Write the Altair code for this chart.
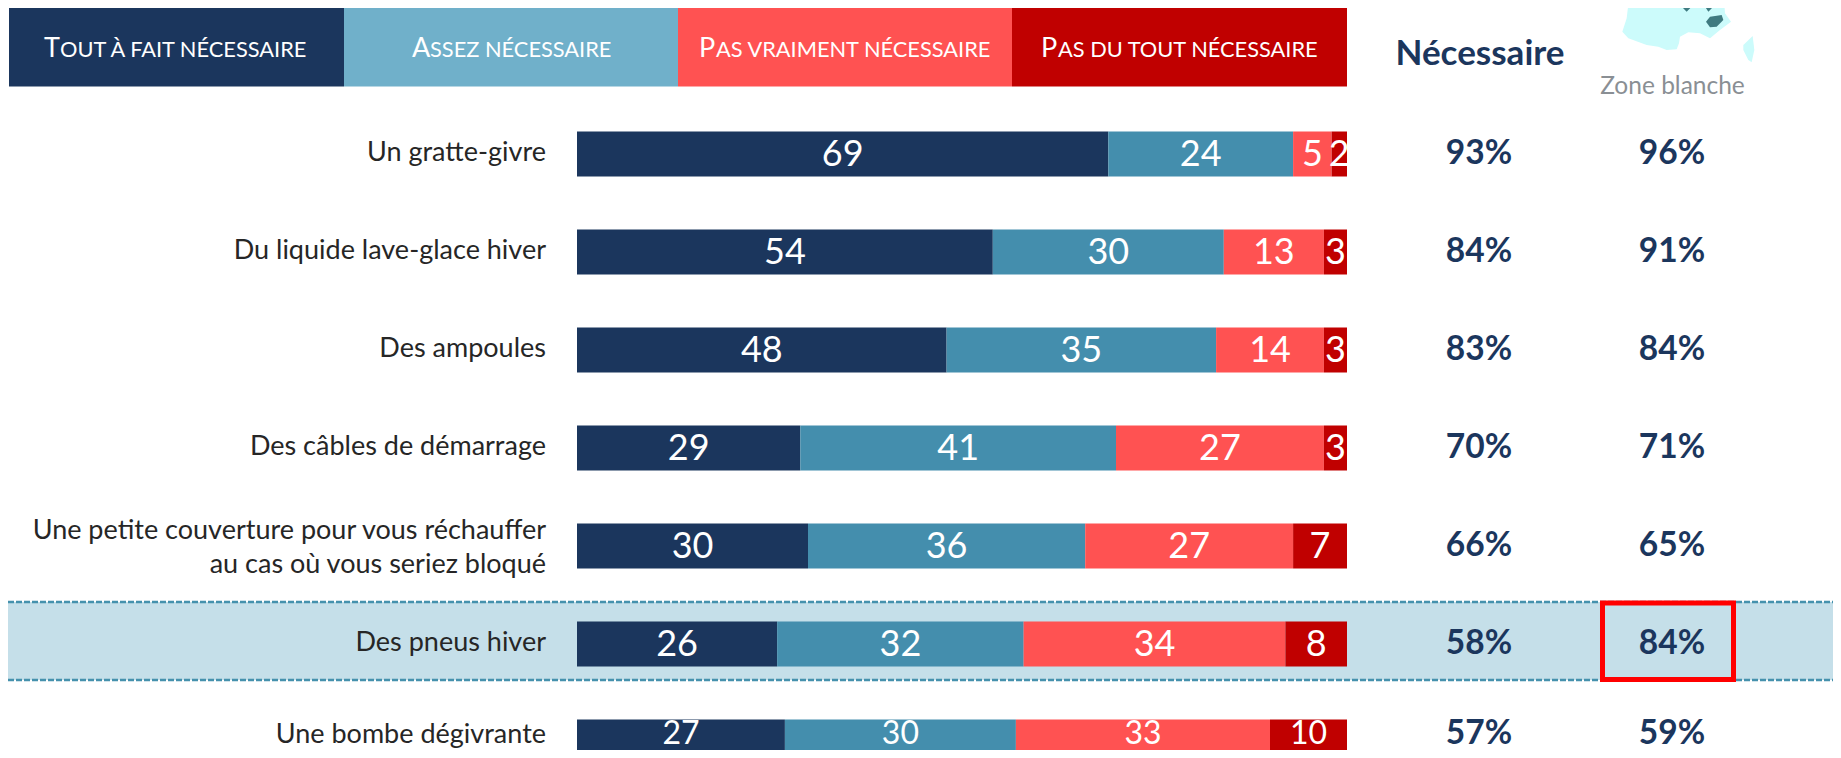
import altair as alt
import pandas as pd

categories = ["Un gratte-givre", "Du liquide lave-glace hiver", "Des ampoules", "Des câbles de démarrage",
              "Une petite couverture pour vous réchauffer\nau cas où vous seriez bloqué", "Des pneus hiver", "Une bombe dégivrante"]
series = ["Tout à fait nécessaire", "Assez nécessaire", "Pas vraiment nécessaire", "Pas du tout nécessaire"]
tout_a_fait = [69, 54, 48, 29, 30, 26, 27]
assez = [24, 30, 35, 41, 36, 32, 30]
pas_vraiment = [5, 13, 14, 27, 27, 34, 33]
pas_du_tout = [2, 3, 3, 3, 7, 8, 10]
necessaire = ["93%", "84%", "83%", "70%", "66%", "58%", "57%"]
zone_blanche = ["96%", "91%", "84%", "71%", "65%", "84%", "59%"]

bar_colors = ["#1B365D", "#448EAD", "#FF5252", "#C00000"]
head_colors = ["#1B365D", "#70B0CA", "#FF5252", "#C00000"]
NAVY = "#1B365D"
LABEL_FONT = "Lato"

rows = []
for i, c in enumerate(categories):
    start = 0
    for s, vals in zip(series, [tout_a_fait, assez, pas_vraiment, pas_du_tout]):
        v = vals[i]
        rows.append({"cat": c, "serie": s, "v": v, "start": start, "end": start + v, "mid": start + v / 2})
        start += v
bars_df = pd.DataFrame(rows)
cols_df = pd.DataFrame({"cat": categories, "nec": necessaire, "zb": zone_blanche})
last = categories[-1]
two_line = categories[4]

W, H = 1825, 742
xs = alt.Scale(domain=[0, 100], range=[569, 1339], nice=False, zero=False)
ys = alt.Scale(domain=categories, range=[97, 783], paddingInner=0.5408, paddingOuter=0.2704, round=False)
X = lambda f: alt.X(f, type="quantitative", scale=xs, axis=None)
Y = alt.Y("cat:N", scale=ys, axis=None, sort=None)
color = alt.Color("serie:N", scale=alt.Scale(domain=series, range=bar_colors), legend=None)

one = pd.DataFrame({"k": [0]})
layers = []

def rect(x0, x1, y0, y1, **kw):
    return alt.Chart(one).mark_rect(**kw).encode(x=alt.value(x0 - 8), x2=alt.value(x1 - 8), y=alt.value(y0 - 8), y2=alt.value(y1 - 8))

def label(txt, x, y, size, col="white", font=LABEL_FONT, weight="normal", align="center"):
    return alt.Chart(pd.DataFrame({"t": [txt]})).mark_text(
        font=font, fontSize=size, color=col, fontWeight=weight, align=align, baseline="alphabetic"
    ).encode(x=alt.value(x - 8), y=alt.value(y - 8), text="t:N")

# highlighted row
layers.append(rect(0, 1841, 602, 680, color="#C5DFE9"))
for yy in (602, 680):
    layers.append(alt.Chart(one).mark_rule(color="#4591AD", strokeWidth=2.5, strokeDash=[6, 2]).encode(
        x=alt.value(0), x2=alt.value(W), y=alt.value(yy - 8)))

# header
edges = [9, 344, 678, 1012, 1347]
for i, c in enumerate(head_colors):
    layers.append(rect(edges[i], edges[i + 1], 8, 86.5, color=c))
head_frags = [("T", "OUT À FAIT NÉCESSAIRE", 44, 16), ("A", "SSEZ NÉCESSAIRE", 412, 18), ("P", "AS VRAIMENT NÉCESSAIRE", 699, 17), ("P", "AS DU TOUT NÉCESSAIRE", 1041, 17)]
for big, small, x0, adv in head_frags:
    layers.append(label(big, x0, 57, 27, align="left"))
    layers.append(label(small, x0 + adv, 57, 21.8, align="left"))

# map silhouette
def path(pts, cx=350, cy=90, half=250):
    return "M" + " L".join(f"{(a - cx) / half:.3f},{(b - cy) / half:.3f}" for a, b in pts) + " Z"
map_light = [(210, -30), (200, 55), (187, 95), (205, 115), (260, 135), (295, 140), (320, 150), (350, 148), (357, 130), (360, 110), (385, 97), (420, 100), (450, 115), (480, 90), (513, 65), (495, 40), (490, -30)]
corsica = [(578, 108), (583, 150), (575, 187), (565, 180), (550, 150), (550, 135)]
map_dark = [(335, -30), (335, 0), (365, 20), (380, 35), (400, 15), (430, 12), (445, 35), (465, 15), (490, 0), (490, -30)]
map_dark2 = [(438, 65), (450, 50), (485, 45), (490, 60), (470, 80), (450, 82)]
size = (2 * 250 / 3) ** 2
mx, my = 1560 + 350 / 3 - 8, 90 / 3 - 8
for pts, col in [(map_light, "#CCFBFB"), (corsica, "#CCFBFB"), (map_dark, "#3F7A80"), (map_dark2, "#3F7A80")]:
    layers.append(alt.Chart(one).mark_point(shape=path(pts), filled=True, color=col, opacity=1, size=size).encode(
        x=alt.value(mx), y=alt.value(my)))

layers.append(label("Nécessaire", 1480, 65, 35, col=NAVY, weight="bold"))
layers.append(label("Zone blanche", 1672.5, 94, 24.5, col="#8A8F94"))

# stacked bars
layers.append(alt.Chart(bars_df).mark_rect().encode(x=X("start"), x2="end:Q", y=Y, color=color))

def pick(df, names, keep=True):
    return df[df["cat"].isin(names) == keep]

# bar values (the bottom row is lifted and reduced a little so that it stays on the page)
for df, dy, fs in ((pick(bars_df, [last], False), 1, 36), (pick(bars_df, [last]), -8, 32)):
    layers.append(alt.Chart(df).mark_text(font=LABEL_FONT, fontSize=fs, color="white", baseline="middle", dy=dy).encode(
        x=X("mid"), y=Y, text="v:Q"))
# row labels
for df, dy in ((pick(cols_df, [last, two_line], False), -1), (pick(cols_df, [two_line]), -15), (pick(cols_df, [last]), -7)):
    layers.append(alt.Chart(df).mark_text(font=LABEL_FONT, fontSize=27, color="#262626", align="right", baseline="middle",
                                          lineBreak="\n", lineHeight=34, dy=dy).encode(
        x=alt.value(546 - 8), y=Y, text="cat:N"))
# percent columns
for field, xc in (("nec", 1479), ("zb", 1672)):
    for df, dy in ((pick(cols_df, [last], False), 0), (pick(cols_df, [last]), -8)):
        layers.append(alt.Chart(df).mark_text(font=LABEL_FONT, fontSize=33.5, fontWeight="bold", color=NAVY, baseline="middle", dy=dy).encode(
            x=alt.value(xc - 8), y=Y, text=f"{field}:N"))

# red box
layers.append(rect(1602.5, 1733.5, 603, 679.5, filled=False, stroke="#FF0000", strokeWidth=5, fillOpacity=0))

chart = alt.layer(*layers).properties(
    width=W, height=H, padding=0, autosize=alt.AutoSizeParams(type="none"), background="white"
).configure_view(strokeWidth=0)

chart.save("out.html", embed_options={"renderer": "svg", "actions": False})
